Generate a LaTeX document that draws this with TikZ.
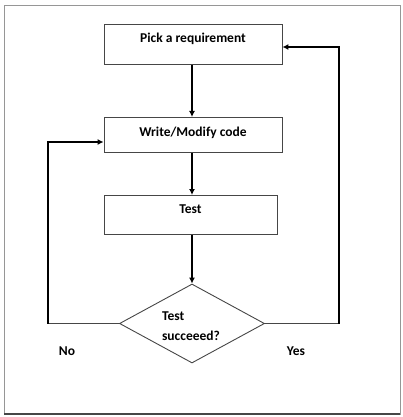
\documentclass[tikz,border=0pt]{standalone}
\usepackage{fontspec}
\setmainfont{Carlito}
\usepackage{tikz}
\usetikzlibrary{arrows.meta}
\usetikzlibrary{shapes.geometric}
\usepackage{xcolor}
\definecolor{ColLine}{RGB}{70,70,70}
\definecolor{ColFrame}{RGB}{150,150,150}
\tikzstyle{BoldText}=[font=\bfseries\fontsize{13.5}{16}\selectfont]
\tikzstyle{StepBox}=[rectangle,draw=ColLine,line width=0.9pt,inner sep=0pt,
BoldText,anchor=north]
\tikzstyle{Decision}=[diamond,draw=ColLine,line width=0.9pt,inner sep=0pt]
\tikzstyle{FlowArrow}=[black,line width=1.3pt,-{Latex[length=6pt,width=6pt]}]
\tikzstyle{FlowLine}=[ColLine,line width=1pt]

\begin{document}
\begin{tikzpicture}[x=1pt,y=-1pt]
        \useasboundingbox (0,0) rectangle (402,417);
        \draw[ColFrame,line width=1pt](4,6)rectangle(400,414);
        \draw[ColLine,line width=1.5pt](4,414)--(400,414);
        % boxes
        \node[StepBox,minimum width=178pt,text height=18pt,text depth=22pt](pick)at(193,24)
            {Pick a requirement};
        \node[StepBox,minimum width=178pt,text height=19pt,text depth=16pt](write)at(193,117)
            {Write/Modify code};
        \node[StepBox,minimum width=173pt,text height=18pt,text depth=21pt](test)at(190.5,195)
            {Test};
        \node[Decision,minimum width=145pt,minimum height=79pt](dec)at(192,323.5){};
        \node[BoldText,align=left,font=\bfseries\fontsize{13.5}{20}\selectfont](dectext)at(191,326)
            {Test\\succeeed?};
        \coordinate(noturn)at(48,323.5);
        \coordinate(yesturn)at(339,323.5);
        % arrows
        \draw[FlowArrow](pick.south-|dec.north)--(write.north-|dec.north);
        \draw[FlowArrow](write.south-|dec.north)--(test.north-|dec.north);
        \draw[FlowArrow](test.south-|dec.north)--(dec.north);
        \draw[FlowLine](dec.west)--(noturn);
        \draw[FlowArrow](noturn)|-(write.west|-0,142);
        \draw[FlowLine](dec.east)--(yesturn);
        \draw[FlowArrow](yesturn)|-(pick.east|-0,47);
        % labels
        \node[BoldText](no)at(67,351){No};
        \node[BoldText](yes)at(296,351){Yes};
    \end{tikzpicture}
\end{document}
